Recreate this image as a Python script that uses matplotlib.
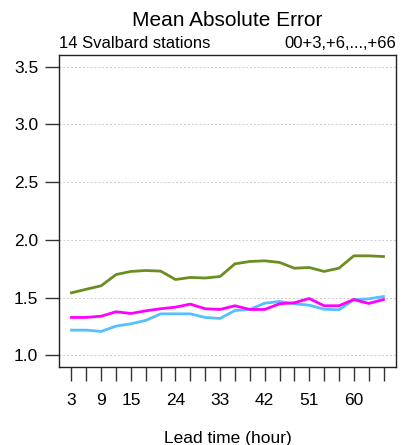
import numpy as np
import matplotlib
matplotlib.use("Agg")
import matplotlib.pyplot as plt

plt.rcParams["font.family"] = ["Liberation Sans", "DejaVu Sans"]

lead_time = list(range(3, 67, 3))
green = [1.542, 1.573, 1.603, 1.700, 1.727, 1.735, 1.730, 1.657, 1.675, 1.670, 1.683,
         1.793, 1.813, 1.819, 1.805, 1.755, 1.761, 1.727, 1.755, 1.862, 1.862, 1.856]
magenta = [1.329, 1.329, 1.340, 1.378, 1.363, 1.386, 1.404, 1.418, 1.444, 1.404, 1.398,
           1.430, 1.398, 1.398, 1.447, 1.456, 1.493, 1.430, 1.430, 1.484, 1.450, 1.484]
cyan = [1.219, 1.219, 1.208, 1.254, 1.274, 1.303, 1.360, 1.360, 1.360, 1.329, 1.320,
        1.389, 1.398, 1.452, 1.467, 1.447, 1.435, 1.400, 1.395, 1.482, 1.490, 1.510]
x_labels = [3, 9, 15, 24, 33, 42, 51, 60]
y_ticks = [1.0, 1.5, 2.0, 2.5, 3.0, 3.5]

fig = plt.figure(figsize=(4.06, 4.45), dpi=100)
ax = fig.add_axes([59 / 406, 1 - 367 / 445, 337 / 406, 312 / 445])

for yv in y_ticks:
    ax.axhline(yv, color="#cccccc", lw=0.7, ls=(0, (2, 2)), zorder=1)

ax.plot(lead_time, cyan, color="#55bfff", lw=2, zorder=3)
ax.plot(lead_time, magenta, color="#ff00ff", lw=2, zorder=3)
ax.plot(lead_time, green, color="#6b8e23", lw=2, zorder=3)

ax.set_xlim(0.48, 68.52)
ax.set_ylim(0.9, 3.6)
ax.set_xticks(lead_time)
ax.set_xticklabels([str(v) if v in x_labels else "" for v in lead_time])
ax.set_yticks(y_ticks)
ax.set_yticklabels(["%.1f" % v for v in y_ticks])
ax.tick_params(axis="both", direction="out", length=10, width=1, labelsize=12.5, color="#333333")
ax.tick_params(axis="x", pad=9)
ax.tick_params(axis="y", pad=5)
for s in ax.spines.values():
    s.set_linewidth(1)
    s.set_color("#222222")

ax.set_xlabel("Lead time (hour)", fontsize=12.5, labelpad=16)
# title centred over the plot box, like R's main=
fig.text(227.5 / 406, 1 - 21 / 445, "Mean Absolute Error", ha="center", va="center", fontsize=15)
ax.text(0, 1.012, "14 Svalbard stations", transform=ax.transAxes, ha="left", va="bottom", fontsize=12)
ax.text(1, 1.012, "00+3,+6,...,+66", transform=ax.transAxes, ha="right", va="bottom", fontsize=12)

fig.savefig("out.png", dpi=100)
